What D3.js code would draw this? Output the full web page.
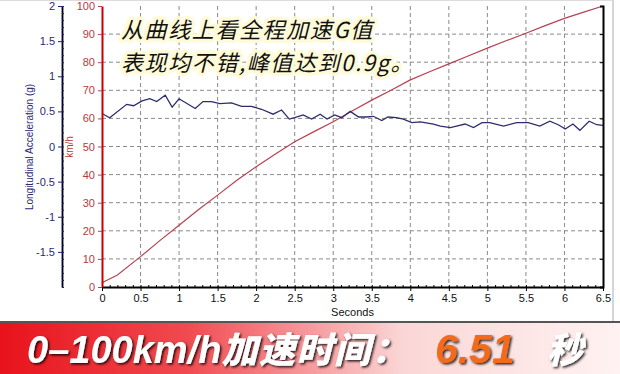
<!DOCTYPE html>
<html>
<head>
<meta charset="utf-8">
<script src="https://cdn.jsdelivr.net/npm/d3@7"></script>
<style>
  body { margin: 0; background: #fff; }
  svg { display: block; font-family: "Liberation Sans", Arial, sans-serif; }
</style>
</head>
<body>
<div id="chart"></div>
<script>
// speed curve (km/h)
var speedTime = [0, 0.2, 0.5, 0.75, 1, 1.25, 1.5, 1.75, 2, 2.25, 2.5, 2.75, 3, 3.25, 3.5, 3.75, 4, 4.25, 4.5, 4.75, 5, 5.25, 5.5, 5.75, 6, 6.25, 6.5];
var speedValues = [1.5, 4.3, 10.8, 16.5, 22, 27.5, 32.7, 38, 42.8, 47.3, 51.7, 55.3, 58.8, 62.7, 66.5, 70, 73.7, 76.6, 79.4, 82.2, 85, 87.7, 90.3, 93, 95.6, 97.8, 100];

// longitudinal acceleration (g)
var accelTime = [0, 0.1, 0.32, 0.41, 0.52, 0.62, 0.71, 0.82, 0.91, 1.0, 1.21, 1.31, 1.42, 1.53, 1.68, 1.81, 1.94, 2.07, 2.22, 2.33, 2.43, 2.5, 2.61, 2.72, 2.83, 2.92, 3.02, 3.11, 3.22, 3.33, 3.43, 3.52, 3.63, 3.71, 3.82, 3.91, 4.02, 4.13, 4.3, 4.39, 4.52, 4.6, 4.71, 4.82, 4.93, 5.03, 5.21, 5.38, 5.53, 5.68, 5.81, 5.92, 6.01, 6.11, 6.2, 6.32, 6.42, 6.5];
var accelValues = [0.47, 0.41, 0.6, 0.58, 0.65, 0.68, 0.64, 0.73, 0.56, 0.68, 0.54, 0.64, 0.64, 0.61, 0.62, 0.57, 0.57, 0.53, 0.46, 0.52, 0.39, 0.41, 0.45, 0.39, 0.46, 0.39, 0.45, 0.41, 0.5, 0.42, 0.42, 0.43, 0.37, 0.42, 0.41, 0.39, 0.34, 0.35, 0.32, 0.29, 0.27, 0.29, 0.32, 0.27, 0.34, 0.34, 0.29, 0.34, 0.34, 0.29, 0.36, 0.31, 0.25, 0.32, 0.23, 0.36, 0.31, 0.3];

var secondTicks = [0, 0.5, 1, 1.5, 2, 2.5, 3, 3.5, 4, 4.5, 5, 5.5, 6, 6.5];
var speedTicks = [0, 10, 20, 30, 40, 50, 60, 70, 80, 90, 100];
var accelTicks = [2, 1.5, 1, 0.5, 0, -0.5, -1, -1.5];

var width = 620;
var height = 374;

var plot = { left: 102, right: 603, top: 6, bottom: 287 };

var svg = d3.select("#chart").append("svg").attr("width", width).attr("height", height);

var x = d3.scaleLinear().domain([0, 6.5]).range([plot.left, plot.right]);
var ySpeed = d3.scaleLinear().domain([0, 100]).range([plot.bottom, plot.top]);
var yAccel = d3.scaleLinear().domain([-2, 2]).range([plot.bottom, plot.top]);

// frame
svg.append("line").attr("x1", 613).attr("x2", 613).attr("y1", 0).attr("y2", 322)
  .attr("stroke", "#c8c8c8").attr("stroke-width", 1.5);
svg.append("line").attr("x1", 0).attr("x2", 613).attr("y1", 0.5).attr("y2", 0.5)
  .attr("stroke", "#dcdcdc");

// grid
var grid = svg.append("g").attr("stroke", "#8a8a8a").attr("stroke-dasharray", "4,3").attr("stroke-width", 1);
grid.selectAll(".vg").data(secondTicks.slice(1, -1)).enter().append("line")
  .attr("x1", function (d) { return x(d); }).attr("x2", function (d) { return x(d); })
  .attr("y1", plot.top).attr("y2", plot.bottom);
grid.selectAll(".hg").data(speedTicks.slice(1, -1)).enter().append("line")
  .attr("x1", plot.left).attr("x2", plot.right)
  .attr("y1", function (d) { return ySpeed(d); }).attr("y2", function (d) { return ySpeed(d); });

// annotation text with soft glow
var note = svg.append("g")
  .style("font-family", "'Noto Sans CJK SC', sans-serif")
  .style("font-size", "22px")
  .style("font-style", "italic")
  .style("letter-spacing", "1.6px")
  .attr("fill", "#111");
[["从曲线上看全程加速G值", 38], ["表现均不错,峰值达到0.9g。", 71]].forEach(function (l) {
  note.append("text").attr("x", 121).attr("y", l[1])
    .attr("stroke", "#fffbd8").attr("stroke-width", 7).attr("stroke-linejoin", "round")
    .attr("paint-order", "stroke")
    .text(l[0]);
});

// curves
var speedLine = d3.line()
  .x(function (d, i) { return x(speedTime[i]); })
  .y(function (d) { return ySpeed(d); });
svg.append("path").attr("d", speedLine(speedValues))
  .attr("fill", "none").attr("stroke", "#b8414f").attr("stroke-width", 1.2);

var accelLine = d3.line()
  .x(function (d, i) { return x(accelTime[i]); })
  .y(function (d) { return yAccel(d); });
svg.append("path").attr("d", accelLine(accelValues))
  .attr("fill", "none").attr("stroke", "#2d2d6e").attr("stroke-width", 1.3);

// bottom axis
var xAxis = d3.axisBottom(x).tickValues(secondTicks).tickSize(4).tickSizeOuter(0)
  .tickFormat(function (d) { return d; });
var gx = svg.append("g").attr("transform", "translate(0," + plot.bottom + ")").call(xAxis);
gx.select(".domain").attr("stroke", "#000").attr("stroke-width", 2);
gx.selectAll("text").attr("fill", "#111").style("font-size", "11px");
svg.append("g").attr("transform", "translate(0," + plot.bottom + ")")
  .call(d3.axisTop(x).ticks(65).tickSize(2).tickFormat(""))
  .select(".domain").remove();
svg.append("text").attr("x", (plot.left + plot.right) / 2).attr("y", 316)
  .attr("text-anchor", "middle").style("font-size", "11px").attr("fill", "#111").text("Seconds");

// right axis
var gr = svg.append("g").attr("transform", "translate(" + plot.right + ",0)")
  .call(d3.axisLeft(ySpeed).tickValues(speedTicks).tickSize(3).tickFormat(""));
gr.select(".domain").attr("stroke", "#000").attr("stroke-width", 2);

// speed axis (red)
var gs = svg.append("g").attr("transform", "translate(" + plot.left + ",0)")
  .call(d3.axisLeft(ySpeed).tickValues(speedTicks).tickSize(4).tickSizeOuter(0));
gs.select(".domain").attr("stroke", "#cc0000").attr("stroke-width", 2);
gs.selectAll(".tick line").attr("stroke", "#c04040");
gs.selectAll("text").attr("fill", "#b83a3a").style("font-size", "11px");
svg.append("text").attr("transform", "translate(73," + 147 + ") rotate(-90)")
  .attr("text-anchor", "middle").style("font-size", "10px").attr("fill", "#b83a3a").text("km/h");

// acceleration axis (blue)
var ga = svg.append("g").attr("transform", "translate(62,0)")
  .call(d3.axisLeft(yAccel).tickValues(accelTicks).tickSize(4).tickSizeOuter(0)
    .tickFormat(function (d) { return d; }));
ga.select(".domain").attr("stroke", "#22226e").attr("stroke-width", 2);
ga.selectAll(".tick line").attr("stroke", "#22226e");
ga.selectAll("text").attr("fill", "#2a2a78").style("font-size", "11px");
svg.append("g").attr("transform", "translate(62,0)")
  .call(d3.axisRight(yAccel).ticks(40).tickSize(2).tickFormat(""))
  .selectAll("line").attr("stroke", "#22226e");
svg.append("text").attr("transform", "translate(33," + 147 + ") rotate(-90)")
  .attr("text-anchor", "middle").style("font-size", "10px").attr("fill", "#2a2a78")
  .text("Longitudinal Acceleration (g)");

// banner
var defs = svg.append("defs");
var grad = defs.append("linearGradient").attr("id", "band").attr("x1", "0").attr("x2", "1");
grad.append("stop").attr("offset", "0").attr("stop-color", "#e8121b");
grad.append("stop").attr("offset", "0.3").attr("stop-color", "#f04a50");
grad.append("stop").attr("offset", "0.65").attr("stop-color", "#fbd6d6");
grad.append("stop").attr("offset", "1").attr("stop-color", "#fff2f2");
var shadow = defs.append("filter").attr("id", "sh").attr("x", "-5%").attr("y", "-20%").attr("width", "110%").attr("height", "140%");
shadow.append("feDropShadow").attr("dx", 1.5).attr("dy", 1.5).attr("stdDeviation", 1.2).attr("flood-color", "#000").attr("flood-opacity", 0.85);

svg.append("rect").attr("x", 0).attr("y", 322).attr("width", width).attr("height", 52).attr("fill", "url(#band)");
svg.append("line").attr("x1", 0).attr("x2", width).attr("y1", 322).attr("y2", 322)
  .attr("stroke", "#555").attr("stroke-width", 2);

var banner = svg.append("text").attr("x", 27).attr("y", 363)
  .attr("filter", "url(#sh)")
  .style("font-weight", "bold").style("font-style", "italic").style("font-size", "38px");
banner.append("tspan").attr("fill", "#fff").style("font-family", "'Liberation Sans', Arial, sans-serif").text("0–100km/h");
banner.append("tspan").attr("fill", "#fff").style("font-family", "'Noto Sans CJK SC', sans-serif").style("font-weight", 900).style("font-size", "36px").style("letter-spacing", "1.5px").text("加速时间：");
banner.append("tspan").attr("fill", "#f26a1b").attr("dx", 26).style("font-family", "'Liberation Sans', Arial, sans-serif").style("font-size", "41px").text("6.51");
banner.append("tspan").attr("fill", "#fff").attr("dx", 32).style("font-family", "'Noto Sans CJK SC', sans-serif").style("font-weight", 900).style("font-size", "36px").text("秒");
</script>
</body>
</html>
